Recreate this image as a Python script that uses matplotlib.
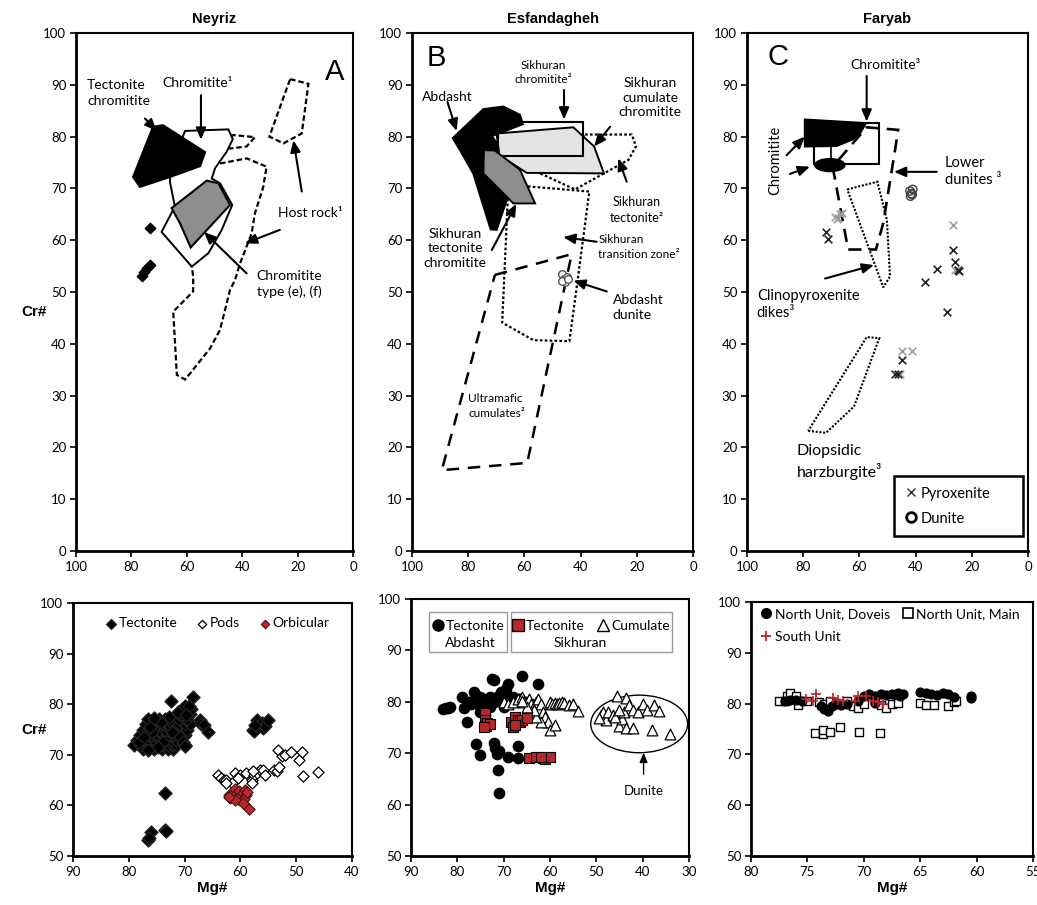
import numpy as np
import matplotlib
matplotlib.use("Agg")
import matplotlib.pyplot as plt
from matplotlib.patches import Polygon, Rectangle, Ellipse
from matplotlib.lines import Line2D

plt.rcParams['font.family'] = ['Lato', 'DejaVu Sans']

# ---------------- top row: fields (Mg#, Cr#) ----------------
# A - Neyriz
neyriz_tect_chromitite = [(79.4, 72.2), (72.2, 81.9), (68.6, 82.2), (53.4, 77.0),
                          (55.2, 74.3), (66.1, 72.2), (76.9, 70.3)]
neyriz_chromitite1 = [(60.6, 81.1), (45.0, 81.4), (43.4, 79.5), (45.6, 77.1), (49.8, 73.9),
                      (51.0, 71.9), (48.0, 71.0), (43.6, 66.8), (47.4, 62.0), (52.2, 57.5),
                      (58.2, 54.9), (69.1, 61.6), (64.3, 66.5), (66.1, 71.3), (65.7, 74.5)]
neyriz_type_ef = [(65.5, 66.2), (52.8, 71.5), (48.6, 71.0), (44.4, 66.8), (58.6, 58.6), (62.5, 63.3)]
neyriz_host_a = [(22.7, 91.1), (16.1, 90.2), (18.5, 80.6), (25.1, 78.7), (30.2, 80.0)]
neyriz_host_b = [(46.6, 79.0), (43.2, 80.3), (35.4, 79.9), (38.4, 78.1), (44.4, 77.7)]
neyriz_host_c = [(51.0, 74.5), (38.4, 75.8), (31.2, 74.2), (32.4, 70.3), (35.4, 65.2),
                 (36.6, 61.3), (40.8, 55.5), (42.6, 52.3), (44.4, 50.4), (48.0, 42.7),
                 (51.6, 39.1), (60.6, 33.1), (63.6, 34.0), (64.9, 46.2), (57.7, 50.1),
                 (57.7, 53.0), (58.2, 54.9)]
neyriz_pts_mg = [73.3, 73.3, 74.5, 75.5, 76.2]
neyriz_pts_cr = [62.4, 55.3, 54.6, 53.9, 53.1]

# B - Esfandagheh
abdasht_field = [(85.5, 79.7), (74.6, 85.3), (67.5, 85.8), (61.6, 84.2), (60.6, 82.4),
                 (71.6, 80.1), (66.3, 76.1), (63.9, 71.6), (69.9, 62.0), (72.0, 62.1),
                 (78.2, 72.9), (82.9, 77.4)]
sikh_tect_chromitite = [(74.4, 77.4), (70.5, 77.3), (61.6, 73.6), (56.2, 67.1), (63.9, 67.1), (74.6, 72.9)]
sikh_cum_chromitite = [(69.9, 80.6), (42.6, 81.8), (35.2, 78.1), (31.7, 72.9), (59.2, 73.0), (68.9, 76.4)]
sikh_chromitite_box = [(69.3, 76.3), (39.0, 76.3), (39.0, 82.9), (69.3, 82.9)]
sikh_tectonite = [(38.4, 80.4), (21.8, 80.4), (20.3, 78.1), (23.0, 75.5), (30.7, 73.2),
                  (42.0, 69.8), (54.4, 72.9)]
sikh_transition = [(65.7, 70.7), (36.9, 69.4), (41.2, 51.7), (44.0, 40.5), (56.8, 40.7), (67.9, 44.1)]
ultramafic_cum = [(70.5, 53.3), (43.2, 57.3), (59.0, 17.0), (89.4, 15.6)]
abdasht_dunite_mg = [46.5, 46.0, 45.5, 45.0, 46.8, 44.6]
abdasht_dunite_cr = [53.5, 52.5, 52.0, 52.8, 52.2, 52.5]

# C - Faryab
faryab_chromitite = [(79.4, 83.3), (57.7, 82.6), (59.8, 80.6), (62.2, 79.5), (68.1, 78.2), (79.4, 78.1)]
faryab_chromitite_pod = (70.5, 74.5)
faryab_chromitite3_box = [(76.0, 74.8), (53.0, 74.8), (53.0, 82.6), (76.0, 82.6)]
lower_dunites = [(69.5, 74.2), (64.0, 58.2), (54.1, 58.2), (51.5, 63.3), (47.3, 77.4), (46.2, 81.3), (57.4, 81.8)]
cpx_dikes = [(64.3, 69.8), (53.6, 71.3), (50.2, 63.9), (49.1, 53.0), (51.5, 50.9)]
diops_harz = [(78.2, 23.2), (71.9, 22.8), (61.9, 27.9), (52.9, 41.1), (57.4, 41.3)]
pyrox_dark_mg = [71.8, 71.0, 26.6, 26.0, 25.0, 24.5, 32.5, 36.5, 28.7, 44.9, 47.3, 46.2]
pyrox_dark_cr = [61.6, 60.2, 58.2, 55.7, 54.2, 54.0, 54.4, 52.0, 46.1, 36.9, 34.1, 34.1]
pyrox_light_mg = [68.5, 67.5, 67.0, 66.2, 68.0, 26.6, 26.0, 44.9, 41.4, 45.7]
pyrox_light_cr = [64.5, 64.2, 65.0, 65.2, 64.0, 62.9, 54.3, 38.7, 38.7, 34.2]
faryab_dunite_mg = [42.0, 41.5, 41.0, 41.8, 41.2]
faryab_dunite_cr = [69.5, 69.0, 69.8, 68.5, 68.8]

# ---------------- bottom row: spinel analyses ----------------
# D - Neyriz
tect_mg = [77.5, 76.5, 75.5, 74, 73, 72,
           79, 78, 77, 76, 75, 74, 73, 72, 71.5, 70,
           78.5, 77.5, 76.5, 75.5, 74.5, 73.5, 72.5, 71.5,
           78, 77, 76, 75, 74, 73, 72, 71, 70,
           77.5, 76.5, 75.5, 74.5, 73.5, 72.5, 71.5, 70.5, 69.5,
           77, 76, 75, 74, 73, 72, 71, 70, 69,
           76.5, 75.5, 74.5, 73.5, 72.5, 71, 70, 69.5,
           71, 70.5, 69.5, 69, 70.5, 70, 69.5, 68.8, 70, 69.2,
           78.2, 77.2, 75.8, 74.2, 72.8, 71.2, 73.8, 70.8, 76.2, 74.8, 72.2, 69.8,
           72.5, 68.5, 67.2, 67, 66.5, 65.8, 70.2, 70, 76.5, 75.5,
           73.5, 73.6, 73.4, 76, 76.5, 76.3,
           57.8, 57.5, 57, 56.8, 56.2, 56, 55.5, 55, 57.3]
tect_cr = [71.2, 71.2, 71.2, 71.2, 71.2, 71.2,
           72, 72, 72, 72, 72, 72, 72, 72, 72, 72,
           73, 73, 73, 73, 73, 73, 73, 73,
           74, 74, 74, 74, 74, 74, 74, 74, 74,
           75, 75, 75, 75, 75, 75, 75, 75, 75,
           76, 76, 76, 76, 76, 76, 76, 76, 76,
           77, 77, 77, 77, 77, 77, 77, 77,
           78, 78, 78, 78, 79, 79, 79, 79, 79.7, 79.7,
           72.5, 73.5, 74.5, 76.5, 77.5, 78.5, 72.5, 73.5, 75.5, 71.6, 74.6, 77.8,
           80.7, 81.5, 76.8, 76.0, 75.8, 74.5, 72.6, 71.8, 71.0, 77.3,
           62.5, 55.2, 55.0, 54.7, 53.2, 53.5,
           75.0, 74.8, 76.8, 75.5, 76.2, 75.3, 75.7, 76.8, 75.8]
pods_mg = [64, 63.5, 63, 62.5, 61, 61.5, 60, 59, 58, 57.5, 57, 56.5, 56, 55.5, 54, 53.5,
           53, 53.3, 52.5, 52, 51, 49.5, 49, 48.8, 46, 58, 57.8, 60.5, 62.5]
pods_cr = [66, 65.5, 65, 65, 66.5, 64.5, 66, 66.5, 65, 66, 66.5, 67, 67, 66, 67, 66.8,
           67.5, 71, 69.8, 70, 70.5, 69, 70.5, 65.8, 66.7, 64.5, 66.8, 65.5, 64.5]
orb_mg = [62, 61.8, 61.5, 61, 60.8, 60.5, 60.2, 60, 59.5, 59.2, 59, 59.3, 58.8, 58.5, 59.5, 61, 62]
orb_cr = [62, 61.5, 62.2, 63.3, 62.2, 61.3, 62.8, 61.8, 62.5, 63, 62, 61.2, 62.7, 59.3, 60.5, 61, 61.7]

# E - Esfandagheh
abd_mg = [83, 82.5, 82, 81.5, 79, 78.5, 77.5, 76.5, 76, 75.5, 75, 74.5, 74, 73.5, 73, 72.5,
          72, 71.5, 71, 70.5, 70, 69.5, 69, 67, 66.5, 66, 64, 62.5, 72, 73, 75, 77, 70, 68, 65,
          76, 75, 72, 71.8, 71.5, 71, 69, 67, 67, 71.2, 71, 78, 74]
abd_cr = [78.7, 78.8, 78.8, 79, 81, 78.8, 80, 82, 80, 79.5, 81, 80.5, 79.8, 80, 81, 84.5,
          84.3, 81, 80.5, 82, 81.5, 82.5, 83.5, 80.5, 80.5, 85, 79.5, 83.5, 80, 79, 78, 79.5, 79, 81, 80,
          71.7, 69.7, 72, 71, 69.8, 70.5, 69.2, 69, 71.5, 66.7, 62.3, 76, 77.5]
sikh_tect_mg = [74, 74, 73.8, 73.5, 73, 74.3, 68.5, 68, 67.5, 67, 66.5, 66, 65, 67.5,
                64.5, 63, 61.5, 61, 60, 62]
sikh_tect_cr = [77.8, 76.5, 75.3, 75.8, 75.6, 75.2, 76, 75.2, 77, 76.5, 76, 76.5, 76.8, 75.5,
                69, 69.2, 69, 68.8, 69.3, 69.3]
cumulate_mg = [70, 69, 68, 67, 66, 65.5, 64.5, 64, 63, 62.5, 62, 61.5, 61, 60.5, 60, 59.5, 59,
               58.5, 58, 57.5, 57, 56, 55, 54, 60, 59, 62, 63, 63.5, 65, 66,
               49, 48.5, 48, 47.5, 46.5, 45.5, 43.5, 45, 44.5, 44, 43, 42, 41, 40, 39, 38,
               37.5, 36.5, 43.5, 42, 34, 46, 45, 49.5]
cumulate_cr = [80, 79.5, 80, 80.5, 81, 80, 80.5, 79.5, 80, 80.5, 79.5, 78, 77, 76, 80, 79.5, 79.8,
               79.5, 79.8, 80, 79.8, 79.3, 79.5, 78.2, 74.5, 75.5, 76, 77, 78.5, 79, 80.2,
               77.5, 78, 76.5, 78, 77.5, 81.2, 80.8, 75.3, 76.7, 78, 79.3, 78.5, 78, 79.5, 78.5, 74.5,
               79.3, 78.3, 75, 75, 73.7, 77, 78.5, 76.8]

# F - Faryab
doveis_mg = [73.8, 73.5, 73.2, 72.8, 72.5, 72, 71.5, 70, 69.5, 69, 68.5, 68, 67.5, 67, 66.8,
             66.5, 65, 64.5, 64, 63.5, 63, 62.5, 62, 60.5, 60.5, 77, 76.5, 76, 75.5, 70.5, 69]
doveis_cr = [79.5, 79, 78.5, 79.5, 80, 79.8, 80, 81.5, 81.8, 81.5, 81.8, 81.7, 81.8, 82, 81.5,
             81.8, 82.2, 82, 81.8, 81.7, 82, 81.8, 81.3, 81.5, 81.2, 80.5, 80.8, 80.7, 80.5, 80.5, 80.2]
main_mg = [77.5, 77, 76.8, 76.5, 76, 75.8, 75, 74, 73.5, 73, 72.5, 71.5, 71, 70.5, 70, 69,
           68.5, 68, 67.5, 67, 65, 64.5, 63.8, 62.5, 62, 61.8,
           74.3, 73.6, 73.6, 73.0, 72.1, 70.4, 68.6]
main_cr = [80.5, 80.5, 81.5, 82, 81.5, 79.8, 80.5, 80.3, 80, 80.5, 80.2, 80.5, 79.5, 79.2, 80, 80.5,
           79.8, 79.2, 80, 80.2, 80.2, 79.8, 79.7, 79.6, 80.3, 80.6,
           74.2, 74.0, 74.8, 74.5, 75.3, 74.5, 74.3]
south_mg = [75.1, 74.2, 74.5, 72.7, 72.3, 71.8, 70.8, 70.5, 69.8, 69.2, 68.7, 68.3]
south_cr = [81.0, 81.9, 80.6, 81.2, 80.8, 80.5, 80.5, 81.5, 81.5, 80.5, 80.3, 80.0]

RED = '#b8272c'
ARROW = dict(arrowstyle='-|>,head_length=0.7,head_width=0.3', color='black', lw=1.5,
             shrinkA=0, shrinkB=0)


def frame(ax, xlim, ylim, xticks, yticks):
    ax.set_xlim(*xlim)
    ax.set_ylim(*ylim)
    ax.set_xticks(xticks)
    ax.set_yticks(yticks)
    ax.tick_params(direction='out', length=4, width=1.2, labelsize=9.5, pad=3)
    for side in ['top', 'right']:
        ax.spines[side].set_linewidth(1.5)
    for side in ['left', 'bottom']:
        ax.spines[side].set_linewidth(2)


def poly(ax, pts, fc='none', ec='black', ls='-', lw=1.5, z=2):
    ax.add_patch(Polygon(pts, closed=True, facecolor=fc, edgecolor=ec, linestyle=ls,
                         linewidth=lw, zorder=z))


def arrow(ax, head, tail):
    ax.annotate('', xy=head, xytext=tail, arrowprops=ARROW, zorder=6)


def title(ax, txt):
    ax.set_title(txt, fontsize=10.5, fontweight='bold', family='Liberation Sans', pad=7)


fig = plt.figure(figsize=(10.37, 9.05), dpi=100)
top_x = [100, 80, 60, 40, 20, 0]
top_y = list(range(0, 101, 10))

# ---------------- A ----------------
ax = fig.add_axes([0.0733, 0.3912, 0.2671, 0.5723])
frame(ax, (100, 0), (0, 100), top_x, top_y)
title(ax, 'Neyriz')
dash_short = (0, (2.5, 1.3))
poly(ax, neyriz_host_a, ls=dash_short, lw=1.6)
poly(ax, neyriz_host_b, ls=dash_short, lw=1.6)
poly(ax, neyriz_host_c, ls=dash_short, lw=1.6)
poly(ax, neyriz_chromitite1, fc='white', lw=1.4, z=3)
poly(ax, neyriz_tect_chromitite, fc='black', z=4)
poly(ax, neyriz_type_ef, fc='#8e8e8e', lw=1.5, z=4)
ax.scatter(neyriz_pts_mg, neyriz_pts_cr, marker='D', s=28, color='black', zorder=5)
ax.text(0.935, 0.925, 'A', transform=ax.transAxes, fontsize=21, ha='center', va='center',
        family='Liberation Sans')
ax.text(96.0, 88.4, 'Tectonite\nchromitite', fontsize=10, ha='left', va='center', linespacing=1.35)
arrow(ax, (70.9, 81.1), (75.1, 83.5))
ax.text(56.0, 90.3, 'Chromitite¹', fontsize=10, ha='center', va='center')
arrow(ax, (54.9, 79.4), (54.9, 88.0))
ax.text(27.0, 65.2, 'Host rock¹', fontsize=10, ha='left', va='center')
arrow(ax, (21.5, 79.3), (18.5, 69.4))
arrow(ax, (39.0, 59.4), (26.4, 62.0))
ax.text(34.8, 51.5, 'Chromitite\ntype (e), (f)', fontsize=10, ha='left', va='center', linespacing=1.35)
arrow(ax, (53.8, 61.6), (38.4, 53.6))

# ---------------- B ----------------
ax = fig.add_axes([0.3973, 0.3912, 0.2710, 0.5723])
frame(ax, (100, 0), (0, 100), top_x, top_y)
title(ax, 'Esfandagheh')
poly(ax, ultramafic_cum, ls=(0, (5, 3.5)), lw=1.8)
poly(ax, sikh_transition, ls=(0, (1.2, 1.0)), lw=1.6)
poly(ax, sikh_tectonite, ls=(0, (1.2, 1.0)), lw=1.6)
poly(ax, abdasht_field, fc='black', z=3)
poly(ax, sikh_cum_chromitite, fc='#e4e4e4', lw=1.4, z=3)
poly(ax, sikh_chromitite_box, fc='none', lw=1.5, z=4)
poly(ax, sikh_tect_chromitite, fc='#8e8e8e', lw=1.4, z=4)
ax.scatter(abdasht_dunite_mg, abdasht_dunite_cr, marker='o', s=30, facecolor='white',
           edgecolor='#555555', linewidth=1.0, zorder=5)
ax.text(0.088, 0.951, 'B', transform=ax.transAxes, fontsize=21, ha='center', va='center',
        family='Liberation Sans')
ax.text(96.5, 87.7, 'Abdasht', fontsize=10, ha='left', va='center')
arrow(ax, (84.1, 81.1), (87.4, 86.7))
ax.text(53.3, 92.4, 'Sikhuran\nchromitite²', fontsize=8.5, ha='center', va='center', linespacing=1.35)
arrow(ax, (45.9, 83.3), (45.9, 89.0))
ax.text(15.3, 87.5, 'Sikhuran\ncumulate\nchromitite', fontsize=10, ha='center', va='center', linespacing=1.25)
arrow(ax, (35.2, 78.1), (29.5, 81.9))
ax.text(20.0, 65.8, 'Sikhuran\ntectonite²', fontsize=9, ha='center', va='center', linespacing=1.35)
arrow(ax, (26.6, 75.8), (23.6, 71.3))
ax.text(84.7, 58.4, 'Sikhuran\ntectonite\nchromitite', fontsize=10, ha='center', va='center', linespacing=1.25)
arrow(ax, (62.9, 67.0), (71.6, 58.1))
ax.text(33.7, 58.7, 'Sikhuran\ntransition zone²', fontsize=8.5, ha='left', va='center', linespacing=1.35)
arrow(ax, (46.2, 60.6), (34.3, 59.7))
ax.text(28.6, 47.0, 'Abdasht\ndunite', fontsize=10, ha='left', va='center', linespacing=1.3)
arrow(ax, (42.6, 52.2), (30.7, 50.1))
ax.text(80.0, 28.0, 'Ultramafic\ncumulates²', fontsize=8.5, ha='left', va='center', linespacing=1.35)

# ---------------- C ----------------
ax = fig.add_axes([0.7203, 0.3912, 0.2710, 0.5723])
frame(ax, (100, 0), (0, 100), top_x, top_y)
title(ax, 'Faryab')
poly(ax, lower_dunites, ls=(0, (5, 3)), lw=1.9, z=2)
poly(ax, cpx_dikes, ls=(0, (1.0, 0.8)), lw=1.5)
poly(ax, diops_harz, ls=(0, (1.0, 0.8)), lw=1.5)
poly(ax, faryab_chromitite3_box, fc='none', lw=1.5, z=3)
poly(ax, faryab_chromitite, fc='black', z=4)
ax.add_patch(Ellipse(faryab_chromitite_pod, 10.7, 2.5, facecolor='black', edgecolor='black', zorder=4))
ax.plot([faryab_chromitite_pod[0] - 0.5, faryab_chromitite_pod[0] - 0.5], [75.5, 78.2],
        color='black', lw=1.2, zorder=4)
ax.scatter(pyrox_light_mg, pyrox_light_cr, marker='x', s=30, color='#9a9a9a', linewidth=1.1, zorder=5)
ax.scatter(pyrox_dark_mg, pyrox_dark_cr, marker='x', s=30, color='#222222', linewidth=1.2, zorder=5)
ax.scatter(faryab_dunite_mg, faryab_dunite_cr, marker='o', s=36, facecolor='none',
           edgecolor='#444444', linewidth=1.0, zorder=5)
ax.text(0.109, 0.954, 'C', transform=ax.transAxes, fontsize=21, ha='center', va='center',
        family='Liberation Sans')
ax.text(50.8, 93.8, 'Chromitite³', fontsize=10, ha='center', va='center')
arrow(ax, (57.4, 82.9), (57.4, 91.7))
ax.text(90.0, 75.5, 'Chromitite', fontsize=10.5, ha='center', va='center', rotation=90)
arrow(ax, (79.4, 80.0), (85.9, 76.4))
arrow(ax, (77.6, 74.2), (84.7, 72.8))
ax.text(29.5, 73.3, 'Lower\ndunites ³', fontsize=10.5, ha='left', va='center', linespacing=1.3)
arrow(ax, (47.7, 73.2), (32.5, 73.2))
ax.text(96.5, 47.6, 'Clinopyroxenite\ndikes³', fontsize=10.5, ha='left', va='center', linespacing=1.2)
arrow(ax, (54.8, 55.2), (72.2, 52.6))
ax.text(82.3, 17.1, 'Diopsidic\nharzburgite³', fontsize=11.5, ha='left', va='center', linespacing=1.35)
hx = Line2D([], [], marker='x', color='#333333', ls='none', markersize=6, markeredgewidth=1.0)
ho = Line2D([], [], marker='o', markerfacecolor='none', markeredgecolor='black', ls='none',
            markersize=7, markeredgewidth=2.0)
leg = ax.legend([hx, ho], ['Pyroxenite', 'Dunite'], loc='lower left', mode='expand',
                bbox_to_anchor=(0.523, 0.028, 0.458, 0.121), borderaxespad=0, fontsize=10.5,
                handlelength=0.8, handletextpad=0.3, borderpad=0.75, labelspacing=0.75,
                fancybox=False, edgecolor='black', framealpha=1)
leg.get_frame().set_linewidth(1.8)

# ---------------- D ----------------
ax = fig.add_axes([0.0704, 0.0541, 0.2690, 0.2796])
frame(ax, (90, 40), (50, 100), [90, 80, 70, 60, 50, 40], [50, 60, 70, 80, 90, 100])
ax.scatter(tect_mg, tect_cr, marker='D', s=44, color='black', edgecolor='#222222', zorder=3, label='Tectonite')
ax.scatter(pods_mg, pods_cr, marker='D', s=32, facecolor='white', edgecolor='black', linewidth=0.9,
           zorder=3, label='Pods')
ax.scatter(orb_mg, orb_cr, marker='D', s=34, facecolor=RED, edgecolor='#3a1010', linewidth=0.7,
           zorder=4, label='Orbicular')
ax.legend(loc='upper center', bbox_to_anchor=(0.515, 0.965), ncol=3, frameon=False, fontsize=10,
          handletextpad=0.05, columnspacing=1.3, handlelength=1.0, markerscale=0.75, borderaxespad=0)
ax.set_xlabel('Mg#', fontsize=11, fontweight='bold', family='Liberation Sans', labelpad=2)

# ---------------- E ----------------
ax = fig.add_axes([0.3963, 0.0541, 0.2681, 0.2840])
frame(ax, (90, 30), (50, 100), [90, 80, 70, 60, 50, 40, 30], [50, 60, 70, 80, 90, 100])
ax.scatter(abd_mg, abd_cr, marker='o', s=55, color='black', zorder=3)
ax.scatter(cumulate_mg, cumulate_cr, marker='^', s=60, facecolor='white', edgecolor='black',
           linewidth=0.9, zorder=4)
ax.scatter(sikh_tect_mg, sikh_tect_cr, marker='s', s=58, facecolor=RED, edgecolor='black',
           linewidth=0.8, zorder=5)
ax.add_patch(Ellipse((40.75, 75.7), 20.9, 11.2, facecolor='none', edgecolor='black', lw=1.0, zorder=2))
ax.annotate('Dunite', xy=(39.8, 70.1), xytext=(39.8, 62.6), fontsize=9.5, ha='center', va='center',
            arrowprops=dict(arrowstyle='-|>,head_length=0.6,head_width=0.25', color='black', lw=1.0,
                            shrinkA=6, shrinkB=0))
for x0, w in [(0.065, 0.281), (0.360, 0.578)]:
    ax.add_patch(Rectangle((x0, 0.795), w, 0.156, transform=ax.transAxes, facecolor='white',
                           edgecolor='#9a9a9a', lw=1.0, zorder=6))
h_abd = Line2D([], [], marker='o', color='black', ls='none', markersize=8)
h_st = Line2D([], [], marker='s', markerfacecolor=RED, markeredgecolor='black', ls='none', markersize=8)
h_cu = Line2D([], [], marker='^', markerfacecolor='white', markeredgecolor='black', ls='none', markersize=8)
l1 = ax.legend([h_abd], ['Tectonite'], loc='center left', bbox_to_anchor=(0.075, 0.896), frameon=False,
               fontsize=10, handlelength=0.9, handletextpad=0.1, borderaxespad=0, borderpad=0)
ax.add_artist(l1)
l1.set_zorder(7)
l2 = ax.legend([h_st, h_cu], ['Tectonite', 'Cumulate'], loc='center left', bbox_to_anchor=(0.363, 0.896),
               ncol=2, frameon=False, fontsize=10, handlelength=0.9, handletextpad=0.1,
               columnspacing=0.9, borderaxespad=0, borderpad=0)
l2.set_zorder(7)
ax.text(0.212, 0.827, 'Abdasht', transform=ax.transAxes, fontsize=10, ha='center', va='center', zorder=7)
ax.text(0.608, 0.827, 'Sikhuran', transform=ax.transAxes, fontsize=10, ha='center', va='center', zorder=7)
ax.set_xlabel('Mg#', fontsize=11, fontweight='bold', family='Liberation Sans', labelpad=2)

# ---------------- F ----------------
ax = fig.add_axes([0.7242, 0.0541, 0.2719, 0.2807])
frame(ax, (80, 55), (50, 100), [80, 75, 70, 65, 60, 55], [50, 60, 70, 80, 90, 100])
ax.scatter(main_mg, main_cr, marker='s', s=40, facecolor='white', edgecolor='black', linewidth=1.0, zorder=3)
ax.scatter(doveis_mg, doveis_cr, marker='o', s=40, color='black', zorder=4)
ax.scatter(south_mg, south_cr, marker='+', s=45, color=RED, linewidth=1.2, zorder=5)
h_dv = Line2D([], [], marker='o', color='black', ls='none', markersize=7)
h_mn = Line2D([], [], marker='s', markerfacecolor='white', markeredgecolor='black', ls='none',
              markersize=6.5, markeredgewidth=1.2)
h_so = Line2D([], [], marker='+', color=RED, ls='none', markersize=7, markeredgewidth=1.3)
ax.legend([h_dv, h_so, h_mn], ['North Unit, Doveis', 'South Unit', 'North Unit, Main'],
          loc='upper left', bbox_to_anchor=(0.035, 0.975), ncol=2, frameon=False, fontsize=10,
          handlelength=0.8, handletextpad=0.2, columnspacing=0.9, labelspacing=0.75,
          borderaxespad=0, borderpad=0)
ax.set_xlabel('Mg#', fontsize=11, fontweight='bold', family='Liberation Sans', labelpad=2)

fig.text(0.021, 0.655, 'Cr#', fontsize=11, fontweight='bold', family='Liberation Sans', va='center')
fig.text(0.021, 0.193, 'Cr#', fontsize=11, fontweight='bold', family='Liberation Sans', va='center')

fig.savefig('out.png', dpi=100)
